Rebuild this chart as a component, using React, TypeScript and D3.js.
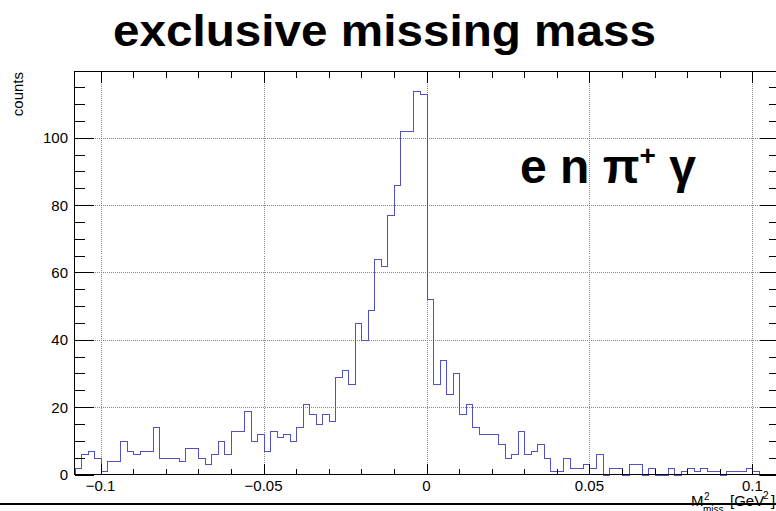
import React from "react";
import * as d3 from "d3";

// Histogram definition (bins of 0.002 starting at -0.108)
const binLow = -0.108;
const binWidth = 0.002;
const counts = [
  2, 6, 7, 5, 1, 4, 4, 10, 7, 6,
  7, 7, 14, 5, 5, 5, 4, 8, 8, 5,
  3, 6, 10, 6, 13, 13, 19, 10, 12, 7,
  13, 11, 12, 10, 14, 21, 18, 15, 18, 16,
  29, 31, 27, 45, 40, 49, 64, 62, 77, 86,
  102, 102, 114, 113, 52, 27, 34, 24, 30, 18,
  21, 14, 12, 12, 12, 9, 5, 6, 13, 6,
  7, 9, 5, 1, 1, 5, 2, 2, 3, 2,
  6, 0, 2, 2, 0, 3, 3, 0, 2, 0,
  0, 2, 0, 1, 2, 1, 2, 1, 1, 0,
  1, 1, 1, 2, 1, 0, 0, 0,
];

const xDomain = [-0.108, 0.108];
const yDomain = [0, 119.7];
const xTickValues = [-0.1, -0.05, 0, 0.05, 0.1];
const xTickLabels = ["\u22120.1", "\u22120.05", "0", "0.05", "0.1"];
const yTickValues = [0, 20, 40, 60, 80, 100];
const yTickLabels = ["0", "20", "40", "60", "80", "100"];
const xMinorStep = 0.01;
const yMinorStep = 5;

const FONT = "'Liberation Sans', Arial, Helvetica, sans-serif";

export default function App() {
  const W = 776;
  const H = 511;
  const x = d3.scaleLinear().domain(xDomain).range([74.5, 778.5]);
  const y = d3.scaleLinear().domain(yDomain).range([474.5, 71.5]);
  const x0 = x(xDomain[0]);
  const x1 = x(xDomain[1]);
  const yB = y(0);
  const yT = y(yDomain[1]);

  // step outline
  const pts: [number, number][] = [];
  const edge = (i: number) => binLow + i * binWidth;
  pts.push([edge(0), 0]);
  counts.forEach((c, i) => {
    pts.push([edge(i), c]);
    pts.push([edge(i + 1), c]);
  });
  pts.push([edge(counts.length), 0]);
  const line = d3
    .line<[number, number]>()
    .x((d) => Math.round(x(d[0])) + 0.5)
    .y((d) => Math.round(y(d[1])) + 0.5);
  const histPath = line(pts) || "";

  const xMinor = d3.range(-0.1, 0.1001, xMinorStep).map((v) => +v.toFixed(3));
  const yMinor = d3.range(0, yDomain[1], yMinorStep);
  const px = (v: number) => Math.round(v) + 0.5;

  return (
    <svg
      width={W}
      height={H}
      style={{ position: "fixed", left: 0, top: 0, background: "#fff" }}
      fontFamily={FONT}
    >
      <rect x={0} y={0} width={W} height={H} fill="#fff" />
      {/* title */}
      <text
        x={113}
        y={46}
        fontSize={45}
        fontWeight="bold"
        fill="#000"
        textLength={543}
        lengthAdjust="spacingAndGlyphs"
      >
        exclusive missing mass
      </text>

      {/* grid */}
      <g stroke="#888" strokeWidth={1} strokeDasharray="1 1" shapeRendering="crispEdges">
        {xTickValues.map((v) => (
          <line key={"gx" + v} x1={px(x(v))} x2={px(x(v))} y1={yT} y2={yB} />
        ))}
        {yTickValues
          .filter((v) => v > 0)
          .map((v) => (
            <line key={"gy" + v} x1={x0} x2={x1} y1={px(y(v))} y2={px(y(v))} />
          ))}
      </g>

      {/* histogram */}
      <path d={histPath} fill="none" stroke="#5050c8" strokeWidth={1} shapeRendering="crispEdges" />

      {/* frame + ticks */}
      <g stroke="#000" strokeWidth={1} shapeRendering="crispEdges">
        <rect x={x0} y={yT} width={x1 - x0} height={yB - yT} fill="none" />
        {xMinor.map((v) => {
          const major = xTickValues.some((t) => Math.abs(t - v) < 1e-9);
          const L = major ? 11 : 6;
          const xx = px(x(v));
          return (
            <g key={"tx" + v}>
              <line x1={xx} x2={xx} y1={yB} y2={yB - L} />
              <line x1={xx} x2={xx} y1={yT} y2={yT + L} />
            </g>
          );
        })}
        {yMinor.map((v) => {
          const major = v % 20 === 0;
          const L = major ? 19 : 10;
          const yy = px(y(v));
          return (
            <g key={"ty" + v}>
              <line x1={x0} x2={x0 + L} y1={yy} y2={yy} />
              <line x1={x1} x2={x1 - L} y1={yy} y2={yy} />
            </g>
          );
        })}
      </g>

      {/* tick labels */}
      <g fontSize={15} fill="#000">
        {xTickValues.map((v, i) => (
          <text key={"lx" + v} x={x(v)} y={491} textAnchor="middle">
            {xTickLabels[i]}
          </text>
        ))}
        {yTickValues.map((v, i) => (
          <text key={"ly" + v} x={68} y={y(v) + 5.5} textAnchor="end">
            {yTickLabels[i]}
          </text>
        ))}
      </g>

      {/* axis titles */}
      <text
        transform={`translate(23,72) rotate(-90)`}
        textAnchor="end"
        fontSize={15}
        fill="#000"
      >
        counts
      </text>

      {/* bottom line */}
      <line x1={0} x2={W} y1={504} y2={504} stroke="#000" strokeWidth={2} />

      <g fontSize={15} fill="#000">
        <text x={691} y={506}>M</text>
        <text x={704} y={500} fontSize={10}>2</text>
        <text x={703} y={513} fontSize={10}>miss</text>
        <text x={730} y={506}>[GeV</text>
        <text x={763} y={499} fontSize={10}>2</text>
        <text x={771} y={506}>]</text>
      </g>

      {/* label */}
      <text x={520} y={183} fontSize={48} fontWeight="bold" fill="#000">
        e n {"\u03C0"}
        <tspan fontSize={28} dy={-18}>+</tspan>
        <tspan dy={18}> {"\u03B3"}</tspan>
      </text>
    </svg>
  );
}
